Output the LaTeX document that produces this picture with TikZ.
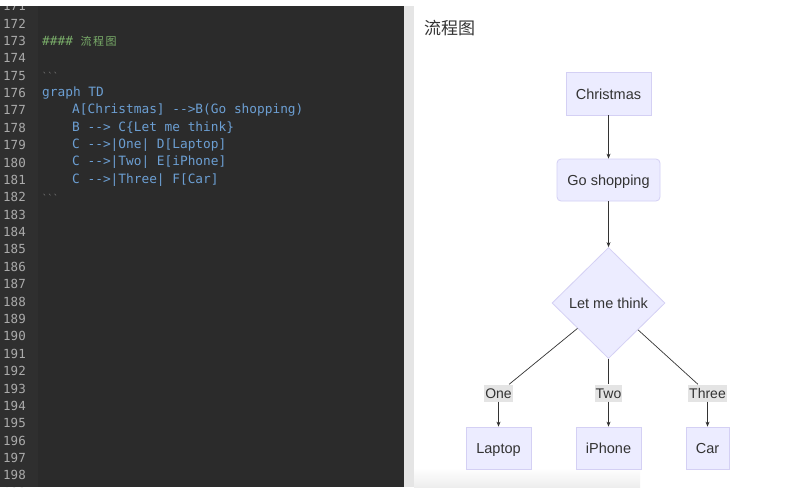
\documentclass[tikz,border=0pt]{standalone}
\usepackage{fontspec}
\setmainfont{Liberation Sans}
\setmonofont{DejaVu Sans Mono}
\newfontfamily\cjk{Noto Sans CJK SC}
\usetikzlibrary{arrows.meta,shapes.geometric}
\definecolor{editorbg}{HTML}{2B2B2B}
\definecolor{gutterbg}{HTML}{2F2F2F}
\definecolor{linenum}{HTML}{ABABAB}
\definecolor{codeblue}{HTML}{6C9FD3}
\definecolor{codegreen}{HTML}{7AAE6A}
\definecolor{codegray}{HTML}{808080}
\definecolor{nodefill}{HTML}{ECECFF}
\definecolor{nodeline}{HTML}{D4D0F4}
\definecolor{inktext}{HTML}{333333}
\definecolor{labelbg}{HTML}{E4E4E4}

\begin{document}
\begin{tikzpicture}[x=1pt, y=-1pt, >={Stealth[length=5pt,width=4pt]},
	lineno/.style={anchor=east, text=linenum, font=\ttfamily\fontsize{12.5}{13}\selectfont, inner sep=0pt},
	code/.style={anchor=west, text=codeblue, font=\ttfamily\fontsize{12.8}{13}\selectfont, inner sep=0pt},
	box/.style={draw=nodeline, fill=nodefill, text=inktext, line width=0.8pt, inner sep=0pt, text height=13.5pt, text depth=2pt, minimum height=42pt, font=\fontsize{14.5}{15}\selectfont},
	choice/.style={diamond, box, minimum width=113pt, minimum height=111pt},
	edgelabel/.style={fill=labelbg, text=inktext, inner sep=1pt, text height=13pt, text depth=2pt, font=\fontsize{14}{15}\selectfont},
	link/.style={draw=inktext, line width=0.7pt}]
	\useasboundingbox (0,0) rectangle (802,499);
	\fill[white] (0,0) rectangle (802,499);
	\fill[editorbg] (0,6) rectangle (404,487);
	\fill[gutterbg] (0,6) rectangle (38,487);
	\fill[black!10] (404,6) rectangle (414,487);
	\shade[top color=white, bottom color=black!7] (414,468) rectangle (640,487);
	\begin{scope}
		\clip (0,6) rectangle (404,487);
		\foreach \n in {171,...,199}
			\node[lineno] at (26,{23.5+(\n-172)*17.38}) {\n};
	\end{scope}
	\node[code, text=codegreen] (heading) at (42,40.9) {\#\#\#\# {\cjk\fontsize{11}{12}\selectfont 流\hspace{1.5pt}程\hspace{1.5pt}图}};
	\node[code, text=codegray, font=\ttfamily\fontsize{9}{10}\selectfont] (fenceopen) at (42,75.6) {```};
	\node[code] (line176) at (42,93) {graph TD};
	\node[code] (line177) at (72,110.4) {A[Christmas] -{}->B(Go shopping)};
	\node[code] (line178) at (72,127.8) {B -{}-> C\{Let me think\}};
	\node[code] (line179) at (72,145.2) {C -{}->|One| D[Laptop]};
	\node[code] (line180) at (72,162.6) {C -{}->|Two| E[iPhone]};
	\node[code] (line181) at (72,180) {C -{}->|Three| F[Car]};
	\node[code, text=codegray, font=\ttfamily\fontsize{9}{10}\selectfont] (fenceclose) at (42,197.4) {```};
	\node[anchor=west, inner sep=0pt, text=inktext, font=\cjk\fontsize{17}{18}\selectfont] (title) at (424,28) {流程图};
	\node[box, minimum width=85pt, minimum height=43pt] (christmas) at (608.5,93.5) {Christmas};
	\node[box, rounded corners=4pt, minimum width=103pt] (shopping) at (608.5,180) {Go shopping};
	\node[choice] (think) at (608.5,303) {Let me think};
	\node[edgelabel] (one) at (498.5,393) {One};
	\node[edgelabel] (two) at (608.5,393) {Two};
	\node[edgelabel] (three) at (707.5,393) {Three};
	\node[box, minimum width=65pt] (laptop) at (498.5,448) {Laptop};
	\node[box, minimum width=65pt] (iphone) at (608.5,448) {iPhone};
	\node[box, minimum width=43pt] (car) at (707.5,448) {Car};
	\draw[link, ->] (christmas) -- (shopping);
	\draw[link, ->] (shopping) -- (think);
	\draw[link] (think) -- (one);
	\draw[link] (think) -- (two);
	\draw[link] (think) -- (three);
	\draw[link, ->] (one) -- (laptop);
	\draw[link, ->] (two) -- (iphone);
	\draw[link, ->] (three) -- (car);
\end{tikzpicture}
\end{document}
